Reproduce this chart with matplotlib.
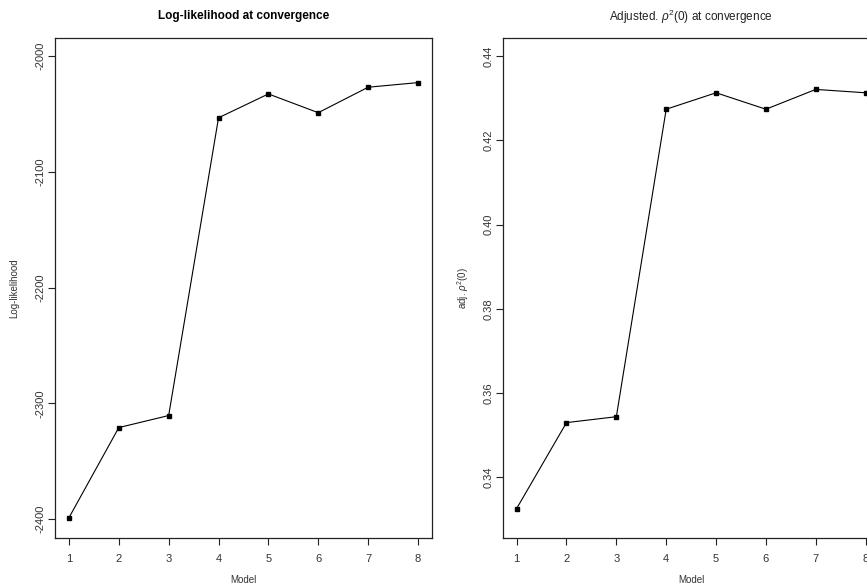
import matplotlib
matplotlib.use("Agg")
import matplotlib.pyplot as plt

plt.rcParams["font.family"] = ["Liberation Sans", "DejaVu Sans"]
plt.rcParams["mathtext.fontset"] = "custom"
plt.rcParams["mathtext.rm"] = "Liberation Sans"
plt.rcParams["mathtext.it"] = "Liberation Sans:italic"
plt.rcParams["axes.unicode_minus"] = False

models = [1, 2, 3, 4, 5, 6, 7, 8]
loglik = [-2398.9, -2321.0, -2310.6, -2053.4, -2032.8, -2049.0, -2027.0, -2023.0]
adj_rho2 = [0.3326, 0.3530, 0.3544, 0.4274, 0.4313, 0.4274, 0.4321, 0.4313]

loglik_ticks = [-2400, -2300, -2200, -2100, -2000]
rho_ticks = [0.34, 0.36, 0.38, 0.40, 0.42, 0.44]

INK = "#222222"


def style_r(ax):
    for spine in ax.spines.values():
        spine.set_edgecolor(INK)
        spine.set_linewidth(0.9)
    ax.tick_params(direction="out", length=5, width=0.8, colors=INK,
                   labelsize=8, labelcolor="#333333")
    ax.tick_params(axis="x", pad=6.5)
    ax.tick_params(axis="y", pad=1.5)
    ax.set_xticks(models)
    ax.set_xlim(0.72, 8.28)
    for lab in ax.get_yticklabels():
        lab.set_rotation(90)
        lab.set_va("center")


fig = plt.figure(figsize=(8.67, 5.85), dpi=100)

ax1 = fig.add_axes([0.0634, 0.0803, 0.4348, 0.8547])
ax1.plot(models, loglik, color="black", lw=0.8, marker="s", ms=3.2)
ax1.set_yticks(loglik_ticks)
ax1.set_ylim(-2416.4, -1984.5)
style_r(ax1)
ax1.set_title("Log-likelihood at convergence", fontsize=8.5, fontweight="bold",
              pad=14, color="black")
ax1.set_xlabel("Model", fontsize=7, labelpad=8, color="#333333")
ax1.set_ylabel("Log-likelihood", fontsize=7, labelpad=12, color="#333333")

ax2 = fig.add_axes([0.5798, 0.0803, 0.4347, 0.8547])
ax2.plot(models, adj_rho2, color="black", lw=0.8, marker="s", ms=3.2)
ax2.set_yticks(rho_ticks)
ax2.set_yticklabels([f"{v:.2f}" for v in rho_ticks])
ax2.set_ylim(0.3256, 0.4443)
style_r(ax2)
ax2.set_title(r"Adjusted. $\rho^2$(0) at convergence", fontsize=8.5,
              pad=12, color="#222222")
ax2.set_xlabel("Model", fontsize=7, labelpad=8, color="#333333")
ax2.set_ylabel(r"adj. $\rho^2$(0)", fontsize=7, labelpad=9, color="#333333")

fig.savefig("out.png", dpi=100)
